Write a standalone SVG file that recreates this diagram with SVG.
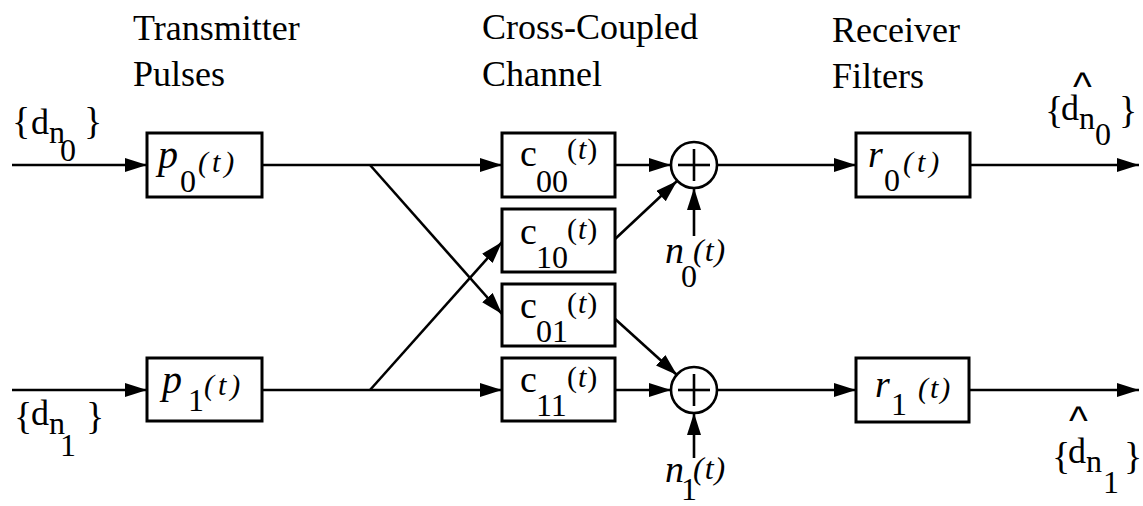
<svg xmlns="http://www.w3.org/2000/svg" width="1143" height="506" viewBox="0 0 1143 506">
  <style>
    .box { fill: #ffffff; stroke: #000; stroke-width: 3; }
    .wire { fill: none; stroke: #000; stroke-width: 2.6; }
    .sum { fill: #ffffff; stroke: #000; stroke-width: 2.6; }
    .plus { stroke: #000; stroke-width: 2.6; }
    text { font-family: 'Liberation Serif', 'Times New Roman', serif; fill: #000; }
    .head { font-size: 36px; }
    .lbl { font-size: 38px; }
    .d { font-size: 36px; }
    .s { font-size: 32px; }
    .it { font-style: italic; }
    .arg { font-size: 30px; }
    .hat { font-family: 'Liberation Sans', Arial, sans-serif; font-size: 40px; }
  </style>
  <defs>
    <marker id="arrow" markerUnits="userSpaceOnUse" markerWidth="24" markerHeight="16" refX="22" refY="7" orient="auto">
      <path d="M0,0 L22,7 L0,14 z" fill="#000"/>
    </marker>
  </defs>

  <rect x="0" y="0" width="1143" height="506" fill="#ffffff"/>

  <!-- column headings -->
  <g id="headings">
    <text class="head" x="133" y="40">Transmitter</text>
    <text class="head" x="133" y="86">Pulses</text>
    <text class="head" x="482" y="39">Cross-Coupled</text>
    <text class="head" x="482" y="86">Channel</text>
    <text class="head" x="832" y="42">Receiver</text>
    <text class="head" x="832" y="88">Filters</text>
  </g>

  <!-- connectors -->
  <g id="connectors">
    <line class="wire" x1="12" y1="165" x2="147" y2="165" marker-end="url(#arrow)"/>
    <line class="wire" x1="12" y1="390" x2="147" y2="390" marker-end="url(#arrow)"/>
    <line class="wire" x1="262" y1="165" x2="502" y2="165" marker-end="url(#arrow)"/>
    <line class="wire" x1="262" y1="390" x2="502" y2="390" marker-end="url(#arrow)"/>
    <line class="wire" x1="370" y1="165" x2="502" y2="314" marker-end="url(#arrow)"/>
    <line class="wire" x1="370" y1="390" x2="502" y2="242" marker-end="url(#arrow)"/>
    <line class="wire" x1="614" y1="165" x2="671" y2="165" marker-end="url(#arrow)"/>
    <line class="wire" x1="614" y1="240" x2="677" y2="181" marker-end="url(#arrow)"/>
    <line class="wire" x1="694" y1="236" x2="694" y2="188" marker-end="url(#arrow)"/>
    <line class="wire" x1="614" y1="318" x2="677" y2="375" marker-end="url(#arrow)"/>
    <line class="wire" x1="614" y1="390" x2="671" y2="390" marker-end="url(#arrow)"/>
    <line class="wire" x1="694" y1="458" x2="694" y2="413" marker-end="url(#arrow)"/>
    <line class="wire" x1="717" y1="165" x2="856" y2="165" marker-end="url(#arrow)"/>
    <line class="wire" x1="717" y1="390" x2="856" y2="390" marker-end="url(#arrow)"/>
    <line class="wire" x1="970" y1="165" x2="1139" y2="165" marker-end="url(#arrow)"/>
    <line class="wire" x1="970" y1="390" x2="1139" y2="390" marker-end="url(#arrow)"/>
  </g>

  <!-- input symbol streams -->
  <g id="in0">
    <text class="lbl" x="12" y="134">{<tspan class="d" x="31" y="134">d</tspan><tspan class="s" x="49" y="143">n</tspan><tspan class="s" x="60" y="161">0</tspan><tspan x="84" y="134">}</tspan></text>
  </g>
  <g id="in1">
    <text class="lbl" x="14" y="429">{<tspan class="d" x="31" y="425">d</tspan><tspan class="s" x="49" y="434">n</tspan><tspan class="s" x="60" y="456">1</tspan><tspan x="86" y="429">}</tspan></text>
  </g>

  <!-- detected symbol streams -->
  <g id="out0">
    <text class="lbl" x="1045" y="123">{<tspan class="hat" x="1073" y="100">^</tspan><tspan class="d" x="1061" y="120">d</tspan><tspan class="s" x="1079" y="129">n</tspan><tspan class="s" x="1095" y="145">0</tspan><tspan x="1119" y="123">}</tspan></text>
  </g>
  <g id="out1">
    <text class="lbl" x="1052" y="469">{<tspan class="hat" x="1069" y="434">^</tspan><tspan class="d" x="1068" y="463">d</tspan><tspan class="s" x="1086" y="472">n</tspan><tspan class="s" x="1103" y="493">1</tspan><tspan x="1124" y="469">}</tspan></text>
  </g>

  <!-- transmitter pulse filters -->
  <g id="p0">
    <rect class="box" x="147" y="133" width="115" height="64"/>
    <text class="it" font-size="40" x="158" y="168">p<tspan class="s" font-style="normal" x="180" y="192">0</tspan><tspan class="arg" x="198" y="172" letter-spacing="4">(t)</tspan></text>
  </g>
  <g id="p1">
    <rect class="box" x="147" y="358" width="115" height="63"/>
    <text class="it" font-size="40" x="162" y="393">p<tspan class="s" font-style="normal" x="188" y="411">1</tspan><tspan class="arg" x="204" y="395" letter-spacing="4">(t)</tspan></text>
  </g>

  <!-- channel paths -->
  <g id="c00">
    <rect class="box" x="502" y="133" width="113" height="64"/>
    <text class="lbl" x="520" y="166">c<tspan class="s" x="536" y="192">00</tspan><tspan class="arg" x="567" y="159" letter-spacing="1">(<tspan class="it">t</tspan>)</tspan></text>
  </g>
  <g id="c10">
    <rect class="box" x="502" y="209" width="113" height="63"/>
    <text class="lbl" x="520" y="244">c<tspan class="s" x="536" y="268">10</tspan><tspan class="arg" x="567" y="239" letter-spacing="1">(<tspan class="it">t</tspan>)</tspan></text>
  </g>
  <g id="c01">
    <rect class="box" x="502" y="284" width="113" height="62"/>
    <text class="lbl" x="520" y="318">c<tspan class="s" x="536" y="342">01</tspan><tspan class="arg" x="567" y="313" letter-spacing="1">(<tspan class="it">t</tspan>)</tspan></text>
  </g>
  <g id="c11">
    <rect class="box" x="502" y="358" width="113" height="63"/>
    <text class="lbl" x="520" y="392">c<tspan class="s" x="536" y="416">11</tspan><tspan class="arg" x="567" y="387" letter-spacing="1">(<tspan class="it">t</tspan>)</tspan></text>
  </g>

  <!-- summing junctions -->
  <g id="sum0">
    <circle class="sum" cx="694" cy="165" r="23"/>
    <line class="plus" x1="678" y1="165" x2="710" y2="165"/>
    <line class="plus" x1="694" y1="149" x2="694" y2="181"/>
  </g>
  <g id="sum1">
    <circle class="sum" cx="694" cy="390" r="23"/>
    <line class="plus" x1="678" y1="390" x2="710" y2="390"/>
    <line class="plus" x1="694" y1="374" x2="694" y2="406"/>
  </g>

  <!-- noise inputs -->
  <g id="n0">
    <text class="lbl it" x="665" y="263">n<tspan class="s" font-style="normal" x="681" y="287">0</tspan><tspan class="s" x="693" y="261" letter-spacing="1">(t)</tspan></text>
  </g>
  <g id="n1">
    <text class="lbl it" x="665" y="482">n<tspan class="s" font-style="normal" x="681" y="500">1</tspan><tspan class="s" x="693" y="479" letter-spacing="1">(t)</tspan></text>
  </g>

  <!-- receiver filters -->
  <g id="r0">
    <rect class="box" x="856" y="133" width="114" height="64"/>
    <text class="lbl it" x="868" y="167">r<tspan class="s" font-style="normal" x="884" y="191">0</tspan><tspan class="arg" x="903" y="172" letter-spacing="4">(t)</tspan></text>
  </g>
  <g id="r1">
    <rect class="box" x="856" y="358" width="113" height="64"/>
    <text class="lbl it" x="875" y="397">r<tspan class="s" font-style="normal" x="891" y="415">1</tspan><tspan class="arg" x="918" y="398" letter-spacing="2">(t)</tspan></text>
  </g>
</svg>
